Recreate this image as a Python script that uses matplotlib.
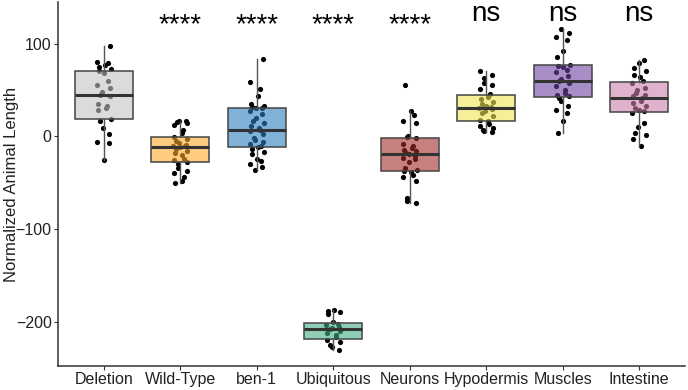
import numpy as np
import matplotlib
matplotlib.use("Agg")
import matplotlib.pyplot as plt

plt.rcParams['font.family'] = ['Liberation Sans', 'DejaVu Sans']

groups = ['Deletion', 'Wild-Type', 'ben-1', 'Ubiquitous', 'Neurons',
          'Hypodermis', 'Muscles', 'Intestine']

deletion = [-26, -7, -6, 2, 9, 17, 19, 28, 31, 33, 35, 43, 45, 48, 52, 55,
            60, 68, 70, 73, 75, 77, 79, 80, 97]
wild_type = [17, 16, 15, 14, 12, 7, 3, -1, -3, -5, -7, -9, -10, -11, -12,
             -14, -16, -18, -20, -24, -26, -28, -30, -34, -38, -40, -44, -48, -50]
ben1 = [83, 59, 51, 43, 35, 33, 32, 31, 30, 27, 24, 20, 17, 14, 11, 9, 7, 6,
        2, -2, -4, -6, -8, -10, -12, -14, -17, -19, -24, -27, -30, -33, -36]
ubiquitous = [-188, -189, -190, -192, -200, -203, -204, -206, -207, -208,
              -210, -212, -214, -217, -220, -222, -225, -228, -231]
neurons = [55, 27, 23, 16, 14, 0, -1, -2, -8, -11, -13, -15, -16, -18, -19,
           -21, -23, -25, -28, -34, -36, -38, -39, -42, -44, -48, -67, -70, -72]
hypodermis = [71, 66, 63, 58, 55, 51, 46, 42, 40, 37, 35, 33, 32, 30, 29, 27,
              25, 22, 18, 16, 13, 11, 9, 7, 6, 5]
muscles = [116, 112, 107, 104, 92, 86, 77, 76, 75, 72, 69, 65, 62, 60, 57, 54,
           50, 47, 45, 43, 41, 38, 33, 28, 25, 17, 4]
intestine = [82, 79, 74, 70, 66, 64, 60, 57, 52, 50, 47, 45, 43, 41, 38, 36,
             33, 30, 28, 27, 25, 14, 10, 4, 1, -3, -11]

data = [deletion, wild_type, ben1, ubiquitous, neurons, hypodermis, muscles, intestine]
labels = ['', '****', '****', '****', '****', 'ns', 'ns', 'ns']
fills = ['#C3C3C3', '#FCAA2B', '#2B7FBE', '#43AF84', '#A32B2B', '#F2E455',
         '#6E43A3', '#CD7FAC']

fig = plt.figure(figsize=(6.88, 3.90), dpi=100)
ax = fig.add_axes([0.0843, 0.0615, 0.9113, 0.9335])

# jittered points (fixed spread pattern), drawn under the translucent boxes
for i, vals in enumerate(data):
    n = len(vals)
    dx = 0.09 * np.sin(np.arange(n) * 2.399 + i)
    ax.scatter(i + dx, vals, s=14, color='black', zorder=2, linewidths=0)

bp = ax.boxplot(data, positions=range(len(groups)), widths=0.76,
                patch_artist=True, showfliers=False, showcaps=False,
                medianprops=dict(color='#333333', linewidth=2.2),
                boxprops=dict(edgecolor='#444444', linewidth=1.1),
                whiskerprops=dict(color='#555555', linewidth=1.0),
                zorder=3)
for patch, c in zip(bp['boxes'], fills):
    patch.set_facecolor(matplotlib.colors.to_rgba(c, 0.6))

for i, lab in enumerate(labels):
    if lab == '****':
        ax.text(i, 112, lab, ha='center', va='baseline', fontsize=20)
    elif lab == 'ns':
        ax.text(i, 124, lab, ha='center', va='baseline', fontsize=20)

ax.set_xlim(-0.6, 7.6)
ax.set_ylim(-248, 145)
ax.set_yticks([-200, -100, 0, 100])
ax.set_xticks(range(len(groups)))
ax.set_xticklabels(groups)
ax.set_ylabel('Normalized Animal Length', fontsize=12, color='#222222')
ax.yaxis.set_label_coords(-0.062, 0.5)
ax.tick_params(labelsize=11.5, colors='#333333', labelcolor='#222222',
               length=3, pad=1.5)
for s in ['top', 'right']:
    ax.spines[s].set_visible(False)
for s in ['left', 'bottom']:
    ax.spines[s].set_color('#333333')
    ax.spines[s].set_linewidth(1.1)

fig.savefig('out.png', dpi=100)
